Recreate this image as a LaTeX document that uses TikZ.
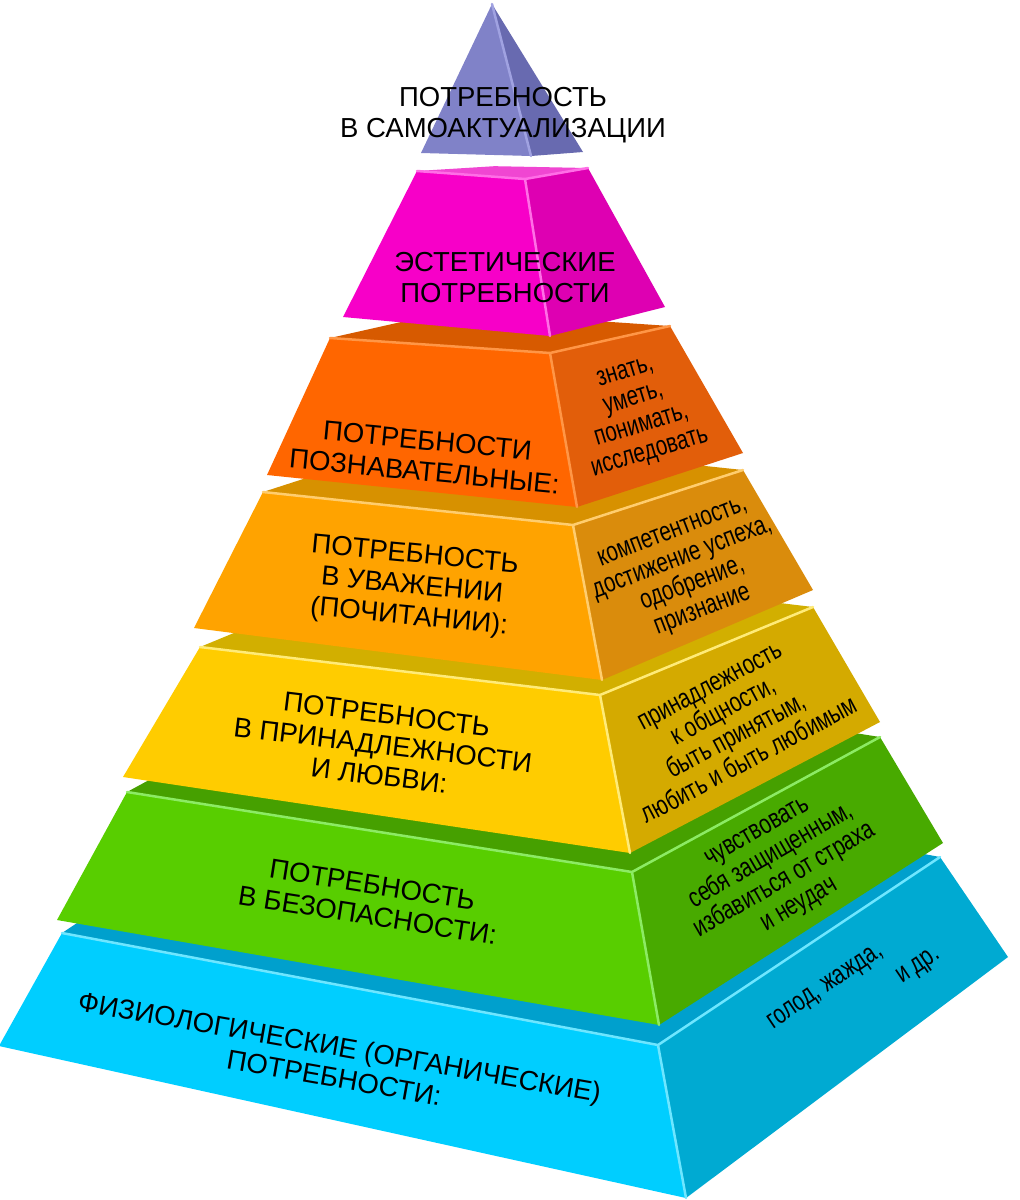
\documentclass[tikz,border=0pt]{standalone}
\usepackage{fontspec}
\setmainfont{Liberation Sans}
\newfontfamily\narrowf[FakeStretch=0.75]{Liberation Sans}
\usetikzlibrary{calc}
% colours
\definecolor{pFront}{RGB}{128,130,200}
\definecolor{pRight}{RGB}{104,106,176}
\definecolor{pHl}{RGB}{160,162,225}
\definecolor{mTop}{RGB}{240,70,210}
\definecolor{mFront}{RGB}{247,0,200}
\definecolor{mRight}{RGB}{222,0,178}
\definecolor{mHl}{RGB}{255,110,230}
\definecolor{oTop}{RGB}{215,90,0}
\definecolor{oFront}{RGB}{255,102,0}
\definecolor{oRight}{RGB}{226,94,10}
\definecolor{oHl}{RGB}{255,150,70}
\definecolor{aTop}{RGB}{215,145,0}
\definecolor{aFront}{RGB}{255,163,0}
\definecolor{aRight}{RGB}{218,140,12}
\definecolor{aHl}{RGB}{255,205,110}
\definecolor{yTop}{RGB}{210,175,0}
\definecolor{yFront}{RGB}{255,204,0}
\definecolor{yRight}{RGB}{212,170,0}
\definecolor{yHl}{RGB}{255,235,120}
\definecolor{gTop}{RGB}{70,160,0}
\definecolor{gFront}{RGB}{88,206,0}
\definecolor{gRight}{RGB}{72,170,0}
\definecolor{gHl}{RGB}{140,235,100}
\definecolor{bTop}{RGB}{0,160,205}
\definecolor{bFront}{RGB}{0,206,255}
\definecolor{bRight}{RGB}{0,170,210}
\definecolor{bHl}{RGB}{110,230,255}
\tikzset{
  maintext/.style={font=\fontsize{27.5}{31}\selectfont, align=center, inner sep=0pt, text=black},
  sidetext/.style={font=\narrowf\fontsize{27.5}{28}\selectfont, align=center, inner sep=0pt, text=black},
  hlline/.style={line width=2.5pt, line cap=round, line join=round}
}
% #1 prefix, #2 top, #3 front, #4 right, #5 highlight, #6 depth factor of the top face
\newcommand{\drawlayer}[6]{%
  \coordinate (#1TB) at ($($(#1TL)!0.5!(#1TR)$)!#6!($(#1TL)+(#1TR)-(#1TC)$)$);
  \fill[#2] (#1TL) -- (#1TC) -- (#1TR) -- (#1TB) -- cycle;
  \fill[#3] (#1TL) -- (#1TC) -- (#1BC) -- (#1BL) -- cycle;
  \fill[#4] (#1TC) -- (#1TR) -- (#1BR) -- (#1BC) -- cycle;
  \draw[#5, hlline] (#1TL) -- (#1TC) -- (#1TR) (#1TC) -- (#1BC);
}
\begin{document}
\begin{tikzpicture}[x=1pt,y=-1pt]
\useasboundingbox (0,0) rectangle (1020,1200);
\fill[white] (0,0) rectangle (1020,1200);
% vertices
\coordinate (pA) at (492,4);
\coordinate (pBL) at (421,153);
\coordinate (pBC) at (531,156);
\coordinate (pBR) at (583,152);
\coordinate (mTL) at (417,171); \coordinate (mTC) at (525,179); \coordinate (mTR) at (588,168);
\coordinate (mBL) at (343,317); \coordinate (mBC) at (550,336); \coordinate (mBR) at (665,307);
\coordinate (oTL) at (330,338); \coordinate (oTC) at (550,353); \coordinate (oTR) at (670,326);
\coordinate (oBL) at (267,475); \coordinate (oBC) at (577,507); \coordinate (oBR) at (743,453);
\coordinate (aTL) at (263,492); \coordinate (aTC) at (573,525); \coordinate (aTR) at (743,470);
\coordinate (aBL) at (194,628); \coordinate (aBC) at (602,680); \coordinate (aBR) at (813,590);
\coordinate (yTL) at (200,647); \coordinate (yTC) at (600,695); \coordinate (yTR) at (813,607);
\coordinate (yBL) at (123,777); \coordinate (yBC) at (630,853); \coordinate (yBR) at (880,722);
\coordinate (gTL) at (127,792); \coordinate (gTC) at (632,872); \coordinate (gTR) at (880,737);
\coordinate (gBL) at (57,920);  \coordinate (gBC) at (659,1025); \coordinate (gBR) at (943,843);
\coordinate (bTL) at (62,933);  \coordinate (bTC) at (658,1045); \coordinate (bTR) at (940,857);
\coordinate (bBL) at (-1,1046); \coordinate (bBC) at (686,1198); \coordinate (bBR) at (1008,957);
\begin{scope}
\clip (0,0) rectangle (1020,1200);
\drawlayer{b}{bTop}{bFront}{bRight}{bHl}{1}
\drawlayer{g}{gTop}{gFront}{gRight}{gHl}{1}
\drawlayer{y}{yTop}{yFront}{yRight}{yHl}{1}
\drawlayer{a}{aTop}{aFront}{aRight}{aHl}{1}
\drawlayer{o}{oTop}{oFront}{oRight}{oHl}{1}
\drawlayer{m}{mTop}{mFront}{mRight}{mHl}{0.35}
\fill[pFront] (pA) -- (pBC) -- (pBL) -- cycle;
\fill[pRight] (pA) -- (pBR) -- (pBC) -- cycle;
\draw[pHl, hlline] (pA) -- (pBC);
\end{scope}
% labels
\node[maintext] (t1) at (503,115) {ПОТРЕБНОСТЬ\\В САМОАКТУАЛИЗАЦИИ};
\node[maintext] (t2) at (505,278) {ЭСТЕТИЧЕСКИЕ\\ПОТРЕБНОСТИ};
\node[maintext, rotate=-5.5] (t3) at (426,456) {ПОТРЕБНОСТИ\\ПОЗНАВАТЕЛЬНЫЕ:};
\node[sidetext, rotate=17] (s3) at (638,414) {знать,\\уметь,\\понимать,\\исследовать};
\node[maintext, rotate=-5.5] (t4) at (412,587) {ПОТРЕБНОСТЬ\\В УВАЖЕНИИ\\(ПОЧИТАНИИ):};
\node[sidetext, rotate=21] (s4) at (688,573) {компетентность,\\достижение успеха,\\одобрение,\\признание};
\node[maintext, rotate=-7] (t5) at (383,745) {ПОТРЕБНОСТЬ\\В ПРИНАДЛЕЖНОСТИ\\И ЛЮБВИ:};
\node[sidetext, rotate=28] (s5) at (730,724) {принадлежность\\к общности,\\быть принятым,\\любить и быть любимым};
\node[maintext, rotate=-9] (t6) at (370,900) {ПОТРЕБНОСТЬ\\В БЕЗОПАСНОСТИ:};
\node[sidetext, rotate=30] (s6) at (779,870) {чувствовать\\себя защищенным,\\избавиться от страха\\и неудач};
\node[maintext, rotate=-10] (t7) at (337,1062) {ФИЗИОЛОГИЧЕСКИЕ (ОРГАНИЧЕСКИЕ)\\ПОТРЕБНОСТИ:};
\node[sidetext, rotate=34] (s7a) at (826,988) {голод, жажда,};
\node[sidetext, rotate=34] (s7b) at (919,967) {и др.};
\end{tikzpicture}
\end{document}
